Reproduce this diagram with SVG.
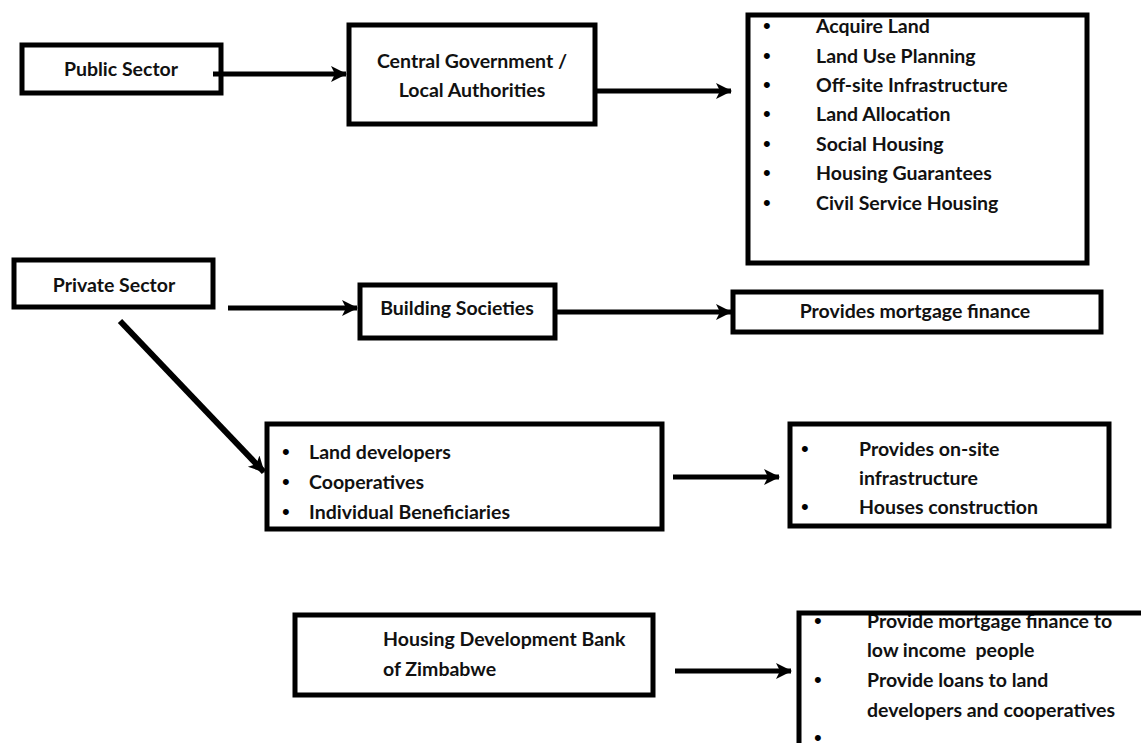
<svg xmlns="http://www.w3.org/2000/svg" width="1141" height="743" viewBox="0 0 1141 743">
<style>
.box{fill:none;stroke:#000;stroke-width:5}
.t{font-family:Lato,"Liberation Sans",sans-serif;font-weight:bold;font-size:19.5px;fill:#111}
.c{text-anchor:middle}
.b{font-family:"Liberation Sans",sans-serif;font-size:22px;fill:#000}
.edge{stroke:#000;stroke-width:5;fill:none;marker-end:url(#ah)}
</style>
<defs>
<marker id="ah" markerUnits="userSpaceOnUse" markerWidth="20" markerHeight="20" refX="15" refY="9" orient="auto">
<path d="M0,1 L16,9 L0,17 L4,9 Z" fill="#000"/>
</marker>
</defs>
<rect width="1141" height="743" fill="#fff"/>
<g id="connectors">
<line class="edge" x1="213" y1="74" x2="346" y2="74"/>
<line class="edge" x1="597" y1="91" x2="731" y2="91"/>
<line class="edge" x1="228" y1="308" x2="357" y2="308"/>
<line class="edge" x1="557" y1="312" x2="731" y2="312"/>
<line class="edge" x1="120" y1="321" x2="264" y2="472" style="stroke-width:6"/>
<line class="edge" x1="673" y1="477" x2="779" y2="477"/>
<line class="edge" x1="675" y1="671" x2="791" y2="671"/>
</g>
<g id="public-sector">
<rect class="box" x="22" y="45" width="199" height="48"/>
<text class="t c" x="121" y="76">Public Sector</text>
</g>
<g id="central-government">
<rect class="box" x="349" y="25" width="246" height="99"/>
<text class="t c" x="472" y="68">Central Government /</text>
<text class="t c" x="472" y="97">Local Authorities</text>
</g>
<g id="public-roles">
<text class="b" x="763" y="33">•</text><text class="t" x="816" y="33">Acquire Land</text>
<text class="b" x="763" y="63">•</text><text class="t" x="816" y="63">Land Use Planning</text>
<text class="b" x="763" y="92">•</text><text class="t" x="816" y="92">Off-site Infrastructure</text>
<text class="b" x="763" y="121">•</text><text class="t" x="816" y="121">Land Allocation</text>
<text class="b" x="763" y="151">•</text><text class="t" x="816" y="151">Social Housing</text>
<text class="b" x="763" y="180">•</text><text class="t" x="816" y="180">Housing Guarantees</text>
<text class="b" x="763" y="210">•</text><text class="t" x="816" y="210">Civil Service Housing</text>
<rect class="box" x="748" y="15" width="339" height="248"/>
</g>
<g id="private-sector">
<rect class="box" x="14" y="260" width="199" height="47"/>
<text class="t c" x="114" y="292">Private Sector</text>
</g>
<g id="building-societies">
<rect class="box" x="360" y="285" width="195" height="53"/>
<text class="t c" x="457" y="315">Building Societies</text>
</g>
<g id="mortgage-finance">
<rect class="box" x="733" y="292" width="368" height="40"/>
<text class="t c" x="915" y="318">Provides mortgage finance</text>
</g>
<g id="developers">
<rect class="box" x="267" y="424" width="395" height="105"/>
<text class="b" x="282" y="459">•</text><text class="t" x="309" y="459">Land developers</text>
<text class="b" x="282" y="489">•</text><text class="t" x="309" y="489">Cooperatives</text>
<text class="b" x="282" y="519">•</text><text class="t" x="309" y="519">Individual Beneficiaries</text>
</g>
<g id="onsite">
<rect class="box" x="790" y="424" width="319" height="102"/>
<text class="b" x="801" y="456">•</text><text class="t" x="859" y="456">Provides on-site</text>
<text class="t" x="859" y="485">infrastructure</text>
<text class="b" x="801" y="514">•</text><text class="t" x="859" y="514">Houses construction</text>
</g>
<g id="hdbz">
<rect class="box" x="295" y="615" width="358" height="80"/>
<text class="t" x="383" y="646">Housing Development Bank</text>
<text class="t" x="383" y="676">of Zimbabwe</text>
</g>
<g id="hdbz-roles">
<text class="b" x="814" y="628">•</text><text class="t" x="867" y="628">Provide mortgage finance to</text>
<text class="t" x="867" y="657" xml:space="preserve">low income  people</text>
<text class="b" x="814" y="687">•</text><text class="t" x="867" y="687">Provide loans to land</text>
<text class="t" x="867" y="717">developers and cooperatives</text>
<text class="b" x="814" y="745">•</text>
<rect class="box" x="799" y="613" width="360" height="150"/>
</g>
</svg>
